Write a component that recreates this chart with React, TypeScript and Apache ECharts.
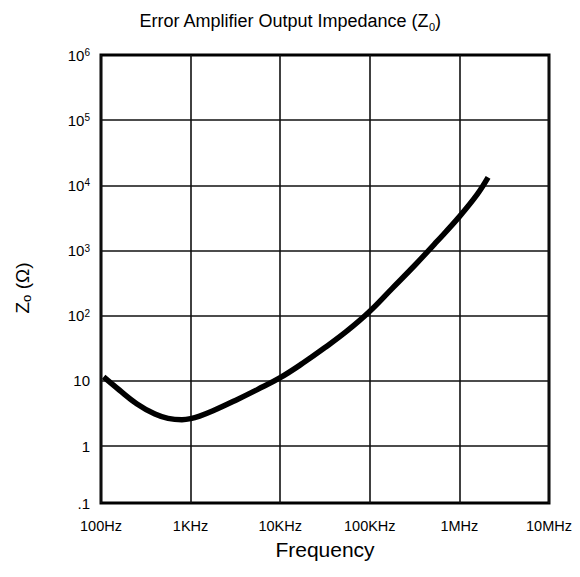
import React, { useEffect, useRef } from "react";
import * as echarts from "echarts";

const freqHz = [107, 160, 250, 400, 560, 800, 1000, 1260, 1780, 3160, 5620, 10000, 17800, 31600, 56200, 100000, 178000, 316000, 562000, 1000000, 1580000, 2090000];
const zoOhm = [11.5, 7.24, 4.47, 3.09, 2.66, 2.54, 2.63, 2.88, 3.47, 5.01, 7.41, 11.2, 18.6, 32.4, 58.9, 117, 263, 589, 1380, 3310, 7240, 13200];

const xTickLabels = ["100Hz", "1KHz", "10KHz", "100KHz", "1MHz", "10MHz"];
const yBottomLog = -0.874;
const yTickLogs = [yBottomLog, 0, 1, 2, 3, 4, 5, 6];
const yGridLogs = [0, 1, 2, 3, 4, 5];

const FONT = "Liberation Sans, Arial, Helvetica, sans-serif";

export default function App() {
  const ref = useRef<HTMLDivElement>(null);
  useEffect(() => {
    if (!ref.current) return;
    const chart = echarts.init(ref.current, undefined, { renderer: "svg" });
    const data = freqHz.map((f, i) => [f, Math.log10(zoOhm[i])]);
    chart.setOption({
      animation: false,
      backgroundColor: "#ffffff",
      textStyle: { fontFamily: FONT, color: "#000" },
      title: {
        text: "Error Amplifier Output Impedance (Z{sub|0})",
        left: "center",
        top: 5,
        textStyle: {
          fontFamily: FONT,
          fontSize: 18,
          fontWeight: "normal",
          color: "#000",
          lineHeight: 22,
          rich: {
            sub: { fontFamily: FONT, fontSize: 11, lineHeight: 10, verticalAlign: "bottom", color: "#000" },
          },
        },
      },
      grid: {
        left: 101,
        top: 55,
        width: 448,
        height: 448,
        show: true,
        borderColor: "#000",
        borderWidth: 3,
        backgroundColor: "transparent",
      },
      xAxis: {
        type: "log",
        logBase: 10,
        min: 100,
        max: 10000000,
        interval: 1,
        name: "Frequency",
        nameLocation: "middle",
        nameGap: 36,
        nameTextStyle: { fontFamily: FONT, fontSize: 21, color: "#000" },
        axisLine: { show: false },
        axisTick: { show: false },
        splitLine: { show: true, lineStyle: { color: "#111", width: 1.6 } },
        axisLabel: {
          margin: 15,
          fontFamily: FONT,
          fontSize: 14.5,
          color: "#000",
          showMinLabel: true,
          showMaxLabel: true,
          formatter: (v: number) => {
            const e = Math.round(Math.log10(v)) - 2;
            return xTickLabels[e] ?? "";
          },
        },
      },
      yAxis: {
        type: "value",
        min: yBottomLog,
        max: 6,
        name: "Z{sub|o} (Ω)",
        nameLocation: "middle",
        nameGap: 68,
        nameTextStyle: {
          fontFamily: FONT,
          fontSize: 19,
          color: "#000",
          lineHeight: 22,
          padding: [0, 18, 0, 0],
          rich: {
            sub: { fontFamily: FONT, fontSize: 13, lineHeight: 10, verticalAlign: "bottom", color: "#000" },
          },
        },
        axisLine: { show: false },
        axisTick: { show: false, customValues: yGridLogs },
        splitLine: { show: true, lineStyle: { color: "#111", width: 1.6 } },
        axisLabel: {
          customValues: yTickLogs,
          margin: 11,
          fontFamily: FONT,
          fontSize: 15,
          color: "#000",
          formatter: (v: number) => {
            if (Math.abs(v - yBottomLog) < 0.01) return ".1";
            const n = Math.round(v);
            if (n === 0) return "1";
            if (n === 1) return "10";
            return "10{sup|" + n + "}";
          },
          rich: {
            sup: { fontFamily: FONT, fontSize: 10, lineHeight: 10, verticalAlign: "top", color: "#000" },
          },
        },
      },
      series: [
        {
          type: "line",
          data,
          smooth: 0.4,
          showSymbol: false,
          lineStyle: { color: "#000", width: 5.5 },
        },
      ],
    });
    return () => chart.dispose();
  }, []);
  return (
    <div
      ref={ref}
      style={{ position: "fixed", left: 0, top: 0, width: 580, height: 577, background: "#fff" }}
    />
  );
}
